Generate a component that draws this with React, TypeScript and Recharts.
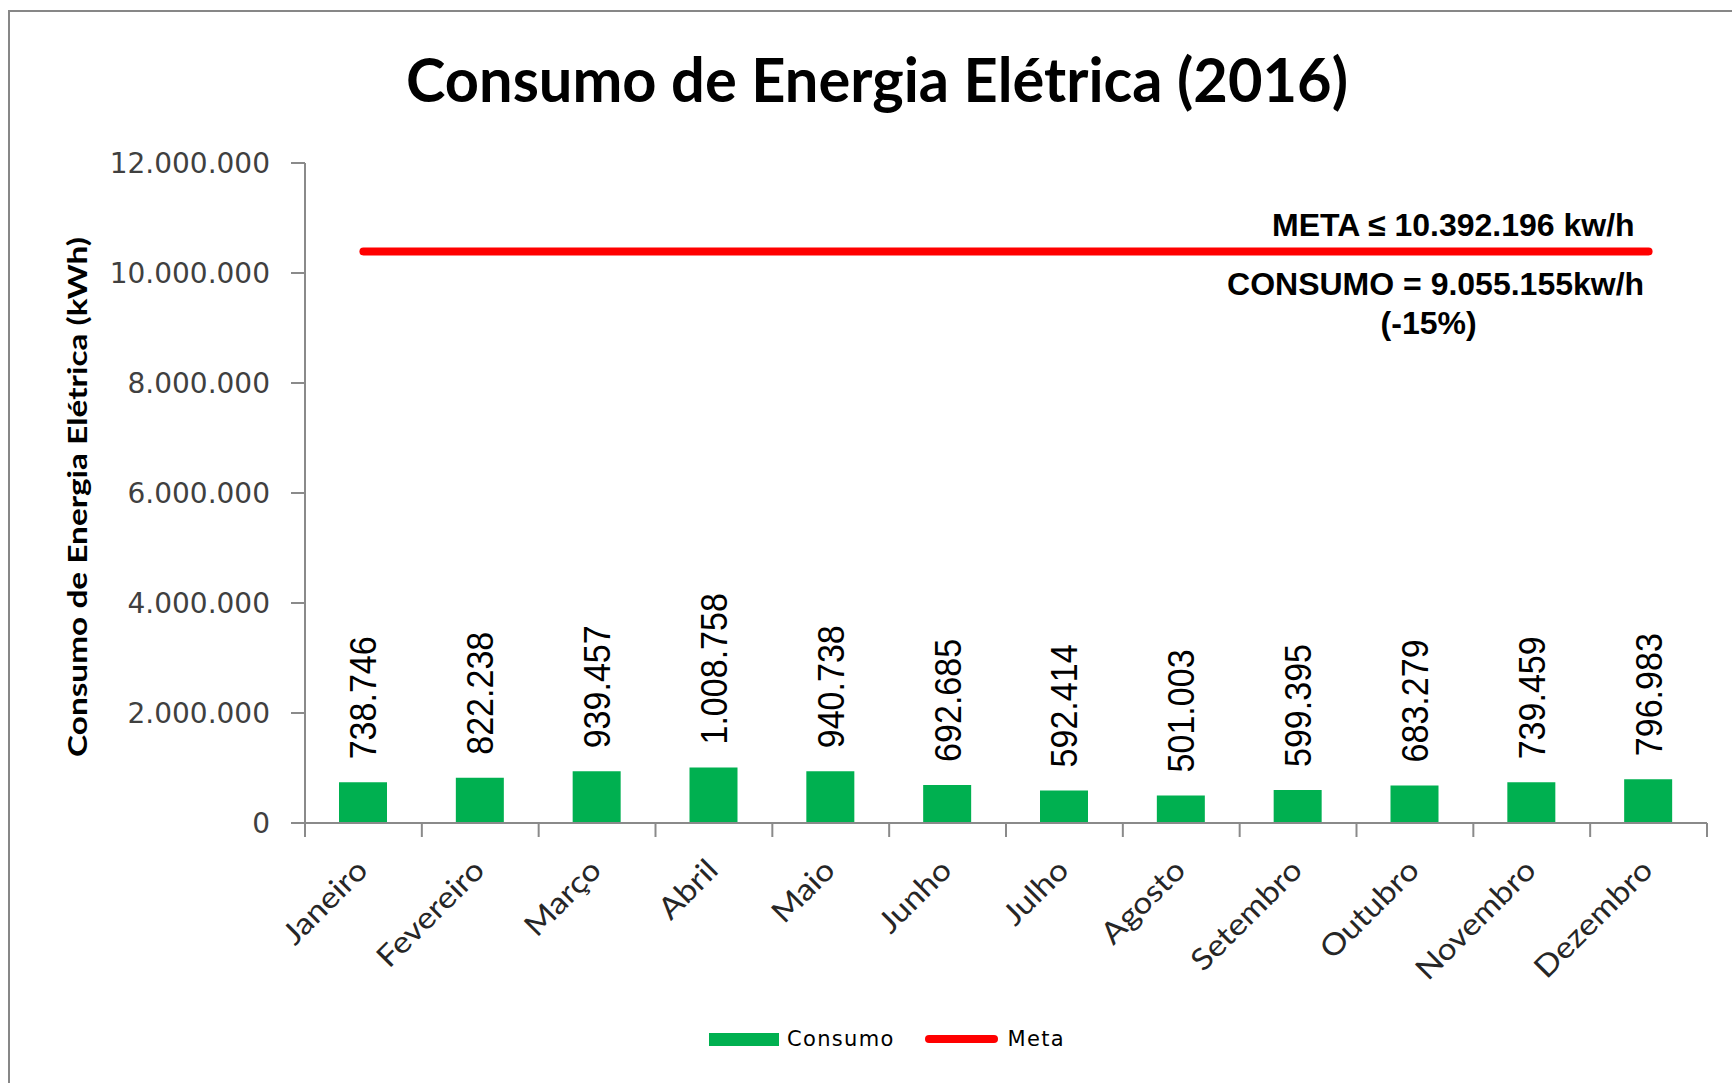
import { ComposedChart, Bar, Line, XAxis, YAxis, LabelList, Legend } from 'recharts'

const MONTHS = ['Janeiro', 'Fevereiro', 'Março', 'Abril', 'Maio', 'Junho', 'Julho', 'Agosto', 'Setembro', 'Outubro', 'Novembro', 'Dezembro']
const CONSUMO = [738746, 822238, 939457, 1008758, 940738, 692685, 592414, 501003, 599395, 683279, 739459, 796983]
const META = 10392196
const META_SERIES = MONTHS.map(() => META)
const Y_TICKS = [0, 2000000, 4000000, 6000000, 8000000, 10000000, 12000000]
const TITLE = 'Consumo de Energia Elétrica (2016)'
const Y_TITLE = 'Consumo de Energia Elétrica (kWh)'
const VARIACAO = '(-15%)'

const W = 1732
const H = 1083
const MARGIN = { top: 163, right: 25, bottom: 0, left: 0 }
const Y_AXIS_W = 305
const X_AXIS_H = 260
const BAND = (W - Y_AXIS_W - MARGIN.right) / MONTHS.length
const AXIS_GRAY = '#8a8a8a'

const fmt = (v: number) => String(v).replace(/\B(?=(\d{3})+(?!\d))/g, '.')
const total = CONSUMO.reduce((a, b) => a + b, 0)

const data = MONTHS.map((mes, i) => ({ mes, consumo: CONSUMO[i], meta: META_SERIES[i] }))

function MonthTick(props: any) {
  const { x, y, payload, index } = props
  const last = index === MONTHS.length - 1
  return (
    <g>
      <line x1={x - BAND / 2} x2={x - BAND / 2} y1={y} y2={y + 14} stroke={AXIS_GRAY} strokeWidth={2} />
      {last && <line x1={x + BAND / 2} x2={x + BAND / 2} y1={y} y2={y + 14} stroke={AXIS_GRAY} strokeWidth={2} />}
      <text transform={`translate(${x + 6},${y + 49}) rotate(-45) scale(1.12,1)`} textAnchor="end"
        fontFamily="Lato" fontSize={30} fill="#262626">{payload.value}</text>
    </g>
  )
}

function BarValue(props: any) {
  const { x, y, width, value } = props
  const cx = x + width / 2
  return (
    <text transform={`translate(${cx},${y - 23}) rotate(-90) scale(0.92,1)`} dy="0.36em"
      fontFamily="Liberation Sans, Arial" fontSize={37} fill="#000">{fmt(value)}</text>
  )
}

function MetaText(props: any) {
  const { x, y, index } = props
  if (index !== MONTHS.length - 1) return null
  const style = { fontFamily: 'Liberation Sans, Arial', fontSize: 32, fontWeight: 700, fill: '#000' }
  return (
    <g>
      <text x={x - 14} y={y - 15} textAnchor="end" {...style}>{`META ≤ ${fmt(META)} kw/h`}</text>
      <text x={x - 213} y={y + 44} textAnchor="middle" {...style}>{`CONSUMO = ${fmt(total)}kw/h`}</text>
      <text x={x - 220} y={y + 83} textAnchor="middle" {...style}>{VARIACAO}</text>
    </g>
  )
}

function YTitle(props: any) {
  const { viewBox } = props
  const cy = viewBox.y + viewBox.height / 2 + 4
  return (
    <text transform={`translate(76,${cy}) rotate(-90)`} textAnchor="middle" dominantBaseline="central"
      fontFamily="Lato" fontWeight={700} fontSize={27} textLength={520} lengthAdjust="spacingAndGlyphs"
      fill="#000">{Y_TITLE}</text>
  )
}

function LegendBox(props: any) {
  const items = props.payload ?? []
  return (
    <div style={{ display: 'flex', justifyContent: 'center', alignItems: 'center', paddingLeft: 72 }}>
      {items.map((it: any) => (
        <div key={it.value} style={{ display: 'flex', alignItems: 'center', marginRight: 30 }}>
          {it.type === 'line'
            ? <div style={{ width: 73, height: 8, borderRadius: 4, background: '#ff0000', marginRight: 10 }} />
            : <div style={{ width: 70, height: 13, background: '#00b050', marginRight: 8 }} />}
          <span style={{ fontFamily: 'DejaVu Sans', fontSize: 21, letterSpacing: 1.3, color: '#000' }}>{it.value}</span>
        </div>
      ))}
    </div>
  )
}

export default function App() {
  return (
    <div style={{ position: 'absolute', left: 0, top: 0, width: W, height: H, background: '#fff', overflow: 'hidden' }}>
      <div style={{ position: 'absolute', left: 8, top: 10, width: W + 20, height: H + 20, border: '2px solid #878787' }} />
      <svg width={W} height={130} style={{ position: 'absolute', left: 0, top: 0 }}>
        <text x={877} y={102} textAnchor="middle" fontFamily="Lato" fontWeight={700} fontSize={62}
          textLength={942} lengthAdjust="spacingAndGlyphs" fill="#000">{TITLE}</text>
      </svg>
      <div style={{ position: 'absolute', left: 0, top: 0 }}>
        <ComposedChart width={W} height={H} data={data} margin={MARGIN}>
          <XAxis dataKey="mes" interval={0} height={X_AXIS_H} tickLine={false} tickSize={0} tickMargin={0}
            axisLine={{ stroke: AXIS_GRAY, strokeWidth: 2 }} tick={<MonthTick />} />
          <YAxis width={Y_AXIS_W} domain={[0, 12000000]} ticks={Y_TICKS} interval={0} tickFormatter={fmt}
            tickSize={14} tickMargin={21}
            axisLine={{ stroke: AXIS_GRAY, strokeWidth: 2 }} tickLine={{ stroke: AXIS_GRAY, strokeWidth: 2 }}
            tick={{ fontFamily: 'DejaVu Sans', fontSize: 28, fill: '#404040' }}
            label={{ content: <YTitle /> }} />
          <Bar dataKey="consumo" name="Consumo" fill="#00b050" barSize={48} isAnimationActive={false}>
            <LabelList dataKey="consumo" content={<BarValue />} />
          </Bar>
          <Line dataKey="meta" name="Meta" type="linear" stroke="#ff0000" strokeWidth={8} strokeLinecap="round"
            dot={false} activeDot={false} isAnimationActive={false} legendType="line">
            <LabelList dataKey="meta" content={<MetaText />} />
          </Line>
          <Legend layout="horizontal" verticalAlign="middle" align="center" content={<LegendBox />}
            wrapperStyle={{ top: 1027, left: 0, width: W }} />
        </ComposedChart>
      </div>
    </div>
  )
}
